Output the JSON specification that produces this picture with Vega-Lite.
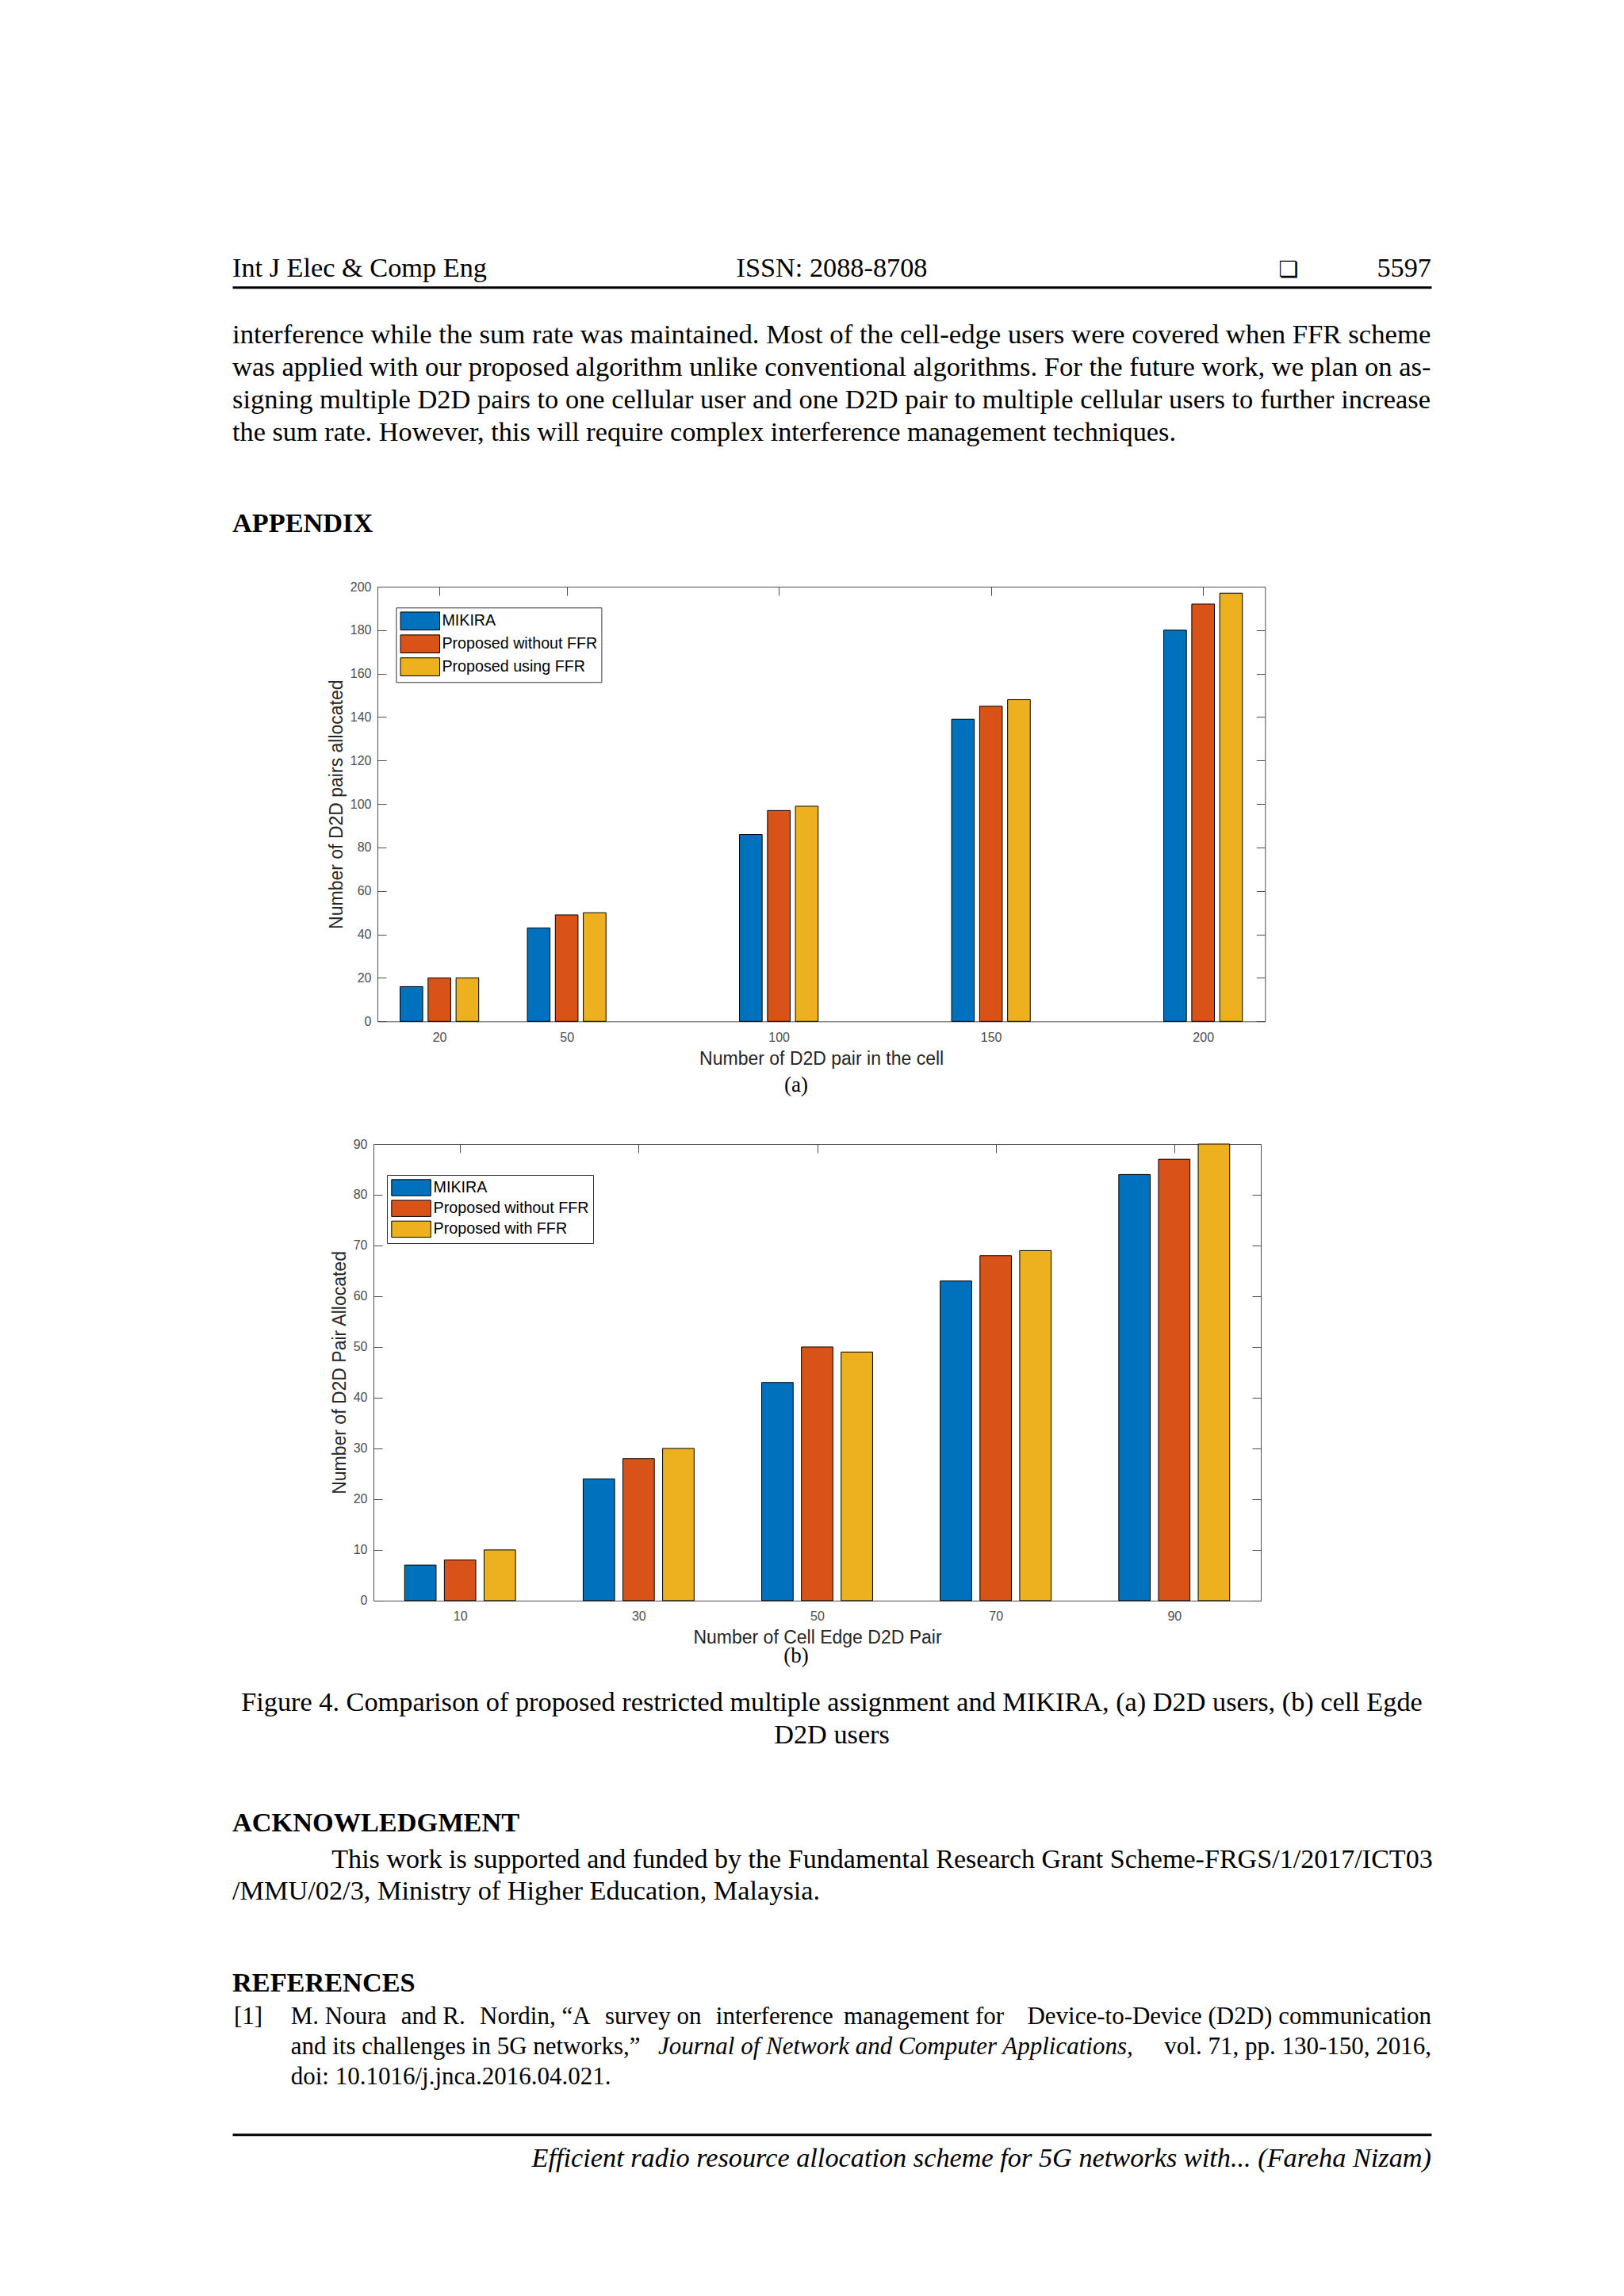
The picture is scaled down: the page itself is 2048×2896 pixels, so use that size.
{
"$schema": "https://vega.github.io/schema/vega-lite/v6.json",
"background": "white",
"padding": {"left": 293, "top": 300, "right": 0, "bottom": 0},
"spacing": 0,
"bounds": "flush",
"config": {
  "view": {"stroke": null},
  "text": {"font": "Liberation Serif", "fontSize": 34.3, "baseline": "alphabetic", "color": "black"},
  "axis": {"labelFont": "Liberation Sans", "labelFontSize": 16, "labelColor": "#4d4d4d", "tickColor": "#4d4d4d", "domainColor": "#4d4d4d", "tickSize": -11, "tickWidth": 1, "domainWidth": 1, "grid": false, "zindex": 1, "labelFlush": false, "labelOverlap": false, "titleFont": "Liberation Sans", "titleFontSize": 23, "titleFontWeight": "normal", "titleColor": "#262626"},
  "legend": {"labelLimit": 400}
},
"resolve": {"scale": {"color": "independent", "x": "independent", "y": "independent"}, "legend": {"color": "independent"}},
"vconcat": [
  {
    "width": 1512, "height": 62.3,
    "data": {"values": [
      {"line": 0, "pos": "left", "kind": "L", "text": "Int J Elec & Comp Eng"},
      {"line": 0, "pos": "center", "kind": "C", "text": "ISSN: 2088-8708"},
      {"line": 0, "pos": "right", "kind": "B", "text": "❏"},
      {"line": 0, "pos": "right", "kind": "R", "text": "5597"}
    ]},
    "encoding": {
      "x": {"field": "pos", "type": "nominal", "scale": {"type": "point", "domain": ["left", "center", "right"], "padding": 0}, "axis": {"orient": "bottom", "domain": true, "domainWidth": 3, "domainColor": "black", "ticks": false, "labels": false, "title": null}},
      "y": {"field": "line", "type": "ordinal", "scale": {"type": "point", "padding": 0, "align": 0.7913}, "axis": null},
      "text": {"field": "text"}
    },
    "layer": [
      {"transform": [{"filter": "datum.kind === 'L'"}], "mark": {"type": "text", "align": "left"}},
      {"transform": [{"filter": "datum.kind === 'C'"}], "mark": {"type": "text", "align": "center"}},
      {"transform": [{"filter": "datum.kind === 'R'"}], "mark": {"type": "text", "align": "right"}},
      {"transform": [{"filter": "datum.kind === 'B'"}], "mark": {"type": "text", "align": "center", "dx": -180.3, "font": "DejaVu Sans", "fontSize": 28}}
    ]
  },
  {
    "width": 1512, "height": 204,
    "data": {"values": [
      {"line": 0, "pos": "left", "text": "interference while the sum rate was maintained. Most of the cell-edge users were covered when FFR scheme"},
      {"line": 1, "pos": "left", "text": "was applied with our proposed algorithm unlike conventional algorithms. For the future work, we plan on as-"},
      {"line": 2, "pos": "left", "text": "signing multiple D2D pairs to one cellular user and one D2D pair to multiple cellular users to further increase"},
      {"line": 3, "pos": "left", "text": "the sum rate. However, this will require complex interference management techniques."}
    ]},
    "encoding": {
      "x": {"field": "pos", "type": "nominal", "scale": {"type": "point", "domain": ["left", "center", "right"], "padding": 0}, "axis": null},
      "y": {"field": "line", "type": "ordinal", "scale": {"type": "point", "padding": 1, "align": 0.8603}, "axis": null},
      "text": {"field": "text"}
    },
    "layer": [
      {"transform": [{"filter": "datum.line === 0"}], "mark": {"type": "text", "align": "left", "fontSize": 34.74}},
      {"transform": [{"filter": "datum.line === 1"}], "mark": {"type": "text", "align": "left", "fontSize": 34.6}},
      {"transform": [{"filter": "datum.line === 2"}], "mark": {"type": "text", "align": "left", "fontSize": 34.45}},
      {"transform": [{"filter": "datum.line === 3"}], "mark": {"type": "text", "align": "left", "fontSize": 34.3}}
    ]
  },
  {
    "width": 1512, "height": 172.4,
    "data": {"values": [{"line": 0, "pos": "left", "text": "APPENDIX"}]},
    "mark": {"type": "text", "align": "left", "fontWeight": "bold"},
    "encoding": {
      "x": {"field": "pos", "type": "nominal", "scale": {"type": "point", "domain": ["left", "center", "right"], "padding": 0}, "axis": null},
      "y": {"field": "line", "type": "ordinal", "scale": {"type": "point", "padding": 0, "align": 0.6056}, "axis": null},
      "text": {"field": "text"}
    }
  },
  {
    "width": 1302.3, "height": 548.3,
    "data": {"values": [
      {"n": 20, "series": "MIKIRA", "value": 16},
      {"n": 20, "series": "Proposed without FFR", "value": 20},
      {"n": 20, "series": "Proposed using FFR", "value": 20},
      {"n": 50, "series": "MIKIRA", "value": 43},
      {"n": 50, "series": "Proposed without FFR", "value": 49},
      {"n": 50, "series": "Proposed using FFR", "value": 50},
      {"n": 100, "series": "MIKIRA", "value": 86},
      {"n": 100, "series": "Proposed without FFR", "value": 97},
      {"n": 100, "series": "Proposed using FFR", "value": 99},
      {"n": 150, "series": "MIKIRA", "value": 139},
      {"n": 150, "series": "Proposed without FFR", "value": 145},
      {"n": 150, "series": "Proposed using FFR", "value": 148},
      {"n": 200, "series": "MIKIRA", "value": 180},
      {"n": 200, "series": "Proposed without FFR", "value": 192},
      {"n": 200, "series": "Proposed using FFR", "value": 197}
    ]},
    "layer": [
      {
        "transform": [{"filter": "datum.series === 'MIKIRA'"}],
        "mark": {"type": "bar", "width": 28.6, "xOffset": -35.3, "stroke": "black", "strokeWidth": 1},
        "encoding": {
          "x": {"field": "n", "type": "quantitative", "scale": {"domain": [5.4, 214.6], "range": [183, 1302.3], "nice": false, "zero": false, "padding": 0},
                "axis": {"orient": "bottom", "values": [20, 50, 100, 150, 200], "title": "Number of D2D pair in the cell", "titleX": 742.65, "titleY": 54.5, "titleAlign": "center", "titleBaseline": "alphabetic", "labelBaseline": "alphabetic", "labelPadding": 36}},
          "y": {"field": "value", "type": "quantitative", "stack": null, "scale": {"domain": [0, 200], "nice": false, "padding": 0},
                "axis": {"orient": "left", "offset": -183, "values": [0, 20, 40, 60, 80, 100, 120, 140, 160, 180, 200], "title": "Number of D2D pairs allocated", "titleX": -45, "titleY": 274.15, "titleAngle": 270, "titleAlign": "center", "titleBaseline": "alphabetic", "labelPadding": 19}},
          "color": {"field": "series", "type": "nominal", "scale": {"domain": ["MIKIRA", "Proposed without FFR", "Proposed using FFR"], "range": ["#0072BD", "#D95319", "#EDB120"]},
                    "legend": {"orient": "none", "legendX": 206.4, "legendY": 26.3, "title": null, "padding": 5, "strokeColor": "#333333", "fillColor": "white", "symbolType": "M-1,-1H3.36V1H-1Z", "symbolSize": 515.3, "symbolStrokeColor": "black", "symbolStrokeWidth": 1, "symbolOpacity": 1, "labelFont": "Liberation Sans", "labelFontSize": 19.7, "labelColor": "black", "labelOffset": 29, "rowPadding": 0.9, "labelLimit": 400}}
        }
      },
      {
        "transform": [{"filter": "datum.series === 'Proposed without FFR'"}],
        "mark": {"type": "bar", "width": 28.6, "xOffset": 0, "stroke": "black", "strokeWidth": 1},
        "encoding": {
          "x": {"field": "n", "type": "quantitative", "scale": {"domain": [5.4, 214.6], "range": [183, 1302.3], "nice": false, "zero": false, "padding": 0}, "axis": null},
          "y": {"field": "value", "type": "quantitative", "stack": null, "scale": {"domain": [0, 200], "nice": false, "padding": 0}, "axis": null},
          "color": {"field": "series", "type": "nominal", "scale": {"domain": ["MIKIRA", "Proposed without FFR", "Proposed using FFR"], "range": ["#0072BD", "#D95319", "#EDB120"]},
                    "legend": {"orient": "none", "legendX": 206.4, "legendY": 26.3, "title": null, "padding": 5, "strokeColor": "#333333", "fillColor": "white", "symbolType": "M-1,-1H3.36V1H-1Z", "symbolSize": 515.3, "symbolStrokeColor": "black", "symbolStrokeWidth": 1, "symbolOpacity": 1, "labelFont": "Liberation Sans", "labelFontSize": 19.7, "labelColor": "black", "labelOffset": 29, "rowPadding": 0.9, "labelLimit": 400}}
        }
      },
      {
        "transform": [{"filter": "datum.series === 'Proposed using FFR'"}],
        "mark": {"type": "bar", "width": 28.6, "xOffset": 35.3, "stroke": "black", "strokeWidth": 1},
        "encoding": {
          "x": {"field": "n", "type": "quantitative", "scale": {"domain": [5.4, 214.6], "range": [183, 1302.3], "nice": false, "zero": false, "padding": 0},
                "axis": {"orient": "top", "values": [20, 50, 100, 150, 200], "labels": false, "title": null}},
          "y": {"field": "value", "type": "quantitative", "stack": null, "scale": {"domain": [0, 200], "nice": false, "padding": 0},
                "axis": {"orient": "right", "values": [0, 20, 40, 60, 80, 100, 120, 140, 160, 180, 200], "labels": false, "title": null}},
          "color": {"field": "series", "type": "nominal", "scale": {"domain": ["MIKIRA", "Proposed without FFR", "Proposed using FFR"], "range": ["#0072BD", "#D95319", "#EDB120"]},
                    "legend": {"orient": "none", "legendX": 206.4, "legendY": 26.3, "title": null, "padding": 5, "strokeColor": "#333333", "fillColor": "white", "symbolType": "M-1,-1H3.36V1H-1Z", "symbolSize": 515.3, "symbolStrokeColor": "black", "symbolStrokeWidth": 1, "symbolOpacity": 1, "labelFont": "Liberation Sans", "labelFontSize": 19.7, "labelColor": "black", "labelOffset": 29, "rowPadding": 0.9, "labelLimit": 400}}
        }
      }
    ],
    "resolve": {"axis": {"x": "independent", "y": "independent"}}
  },
  {
    "width": 1422, "height": 153.4,
    "data": {"values": [{"line": 0, "pos": "center", "text": "(a)"}]},
    "mark": {"type": "text", "align": "center", "fontSize": 27},
    "encoding": {
      "x": {"field": "pos", "type": "nominal", "scale": {"type": "point", "domain": ["left", "center", "right"], "padding": 0}, "axis": null},
      "y": {"field": "line", "type": "ordinal", "scale": {"type": "point", "padding": 0, "align": 0.571}, "axis": null},
      "text": {"field": "text"}
    }
  },
  {
    "width": 1297, "height": 575.9,
    "data": {"values": [
      {"n": 10, "series": "MIKIRA", "value": 7},
      {"n": 10, "series": "Proposed without FFR", "value": 8},
      {"n": 10, "series": "Proposed with FFR", "value": 10},
      {"n": 30, "series": "MIKIRA", "value": 24},
      {"n": 30, "series": "Proposed without FFR", "value": 28},
      {"n": 30, "series": "Proposed with FFR", "value": 30},
      {"n": 50, "series": "MIKIRA", "value": 43},
      {"n": 50, "series": "Proposed without FFR", "value": 50},
      {"n": 50, "series": "Proposed with FFR", "value": 49},
      {"n": 70, "series": "MIKIRA", "value": 63},
      {"n": 70, "series": "Proposed without FFR", "value": 68},
      {"n": 70, "series": "Proposed with FFR", "value": 69},
      {"n": 90, "series": "MIKIRA", "value": 84},
      {"n": 90, "series": "Proposed without FFR", "value": 87},
      {"n": 90, "series": "Proposed with FFR", "value": 90}
    ]},
    "layer": [
      {
        "transform": [{"filter": "datum.series === 'MIKIRA'"}],
        "mark": {"type": "bar", "width": 39.7, "xOffset": -50.1, "stroke": "black", "strokeWidth": 1},
        "encoding": {
          "x": {"field": "n", "type": "quantitative", "scale": {"domain": [0.3, 99.7], "range": [178, 1297], "nice": false, "zero": false, "padding": 0},
                "axis": {"orient": "bottom", "values": [10, 30, 50, 70, 90], "title": "Number of Cell Edge D2D Pair", "titleX": 737.5, "titleY": 53.5, "titleAlign": "center", "titleBaseline": "alphabetic", "labelBaseline": "alphabetic", "labelPadding": 36}},
          "y": {"field": "value", "type": "quantitative", "stack": null, "scale": {"domain": [0, 90], "nice": false, "padding": 0},
                "axis": {"orient": "left", "offset": -178, "values": [0, 10, 20, 30, 40, 50, 60, 70, 80, 90], "title": "Number of D2D Pair Allocated", "titleX": -35.2, "titleY": 287.95, "titleAngle": 270, "titleAlign": "center", "titleBaseline": "alphabetic", "labelPadding": 19}},
          "color": {"field": "series", "type": "nominal", "scale": {"domain": ["MIKIRA", "Proposed without FFR", "Proposed with FFR"], "range": ["#0072BD", "#D95319", "#EDB120"]},
                    "legend": {"orient": "none", "legendX": 195, "legendY": 39, "title": null, "padding": 5, "strokeColor": "#333333", "fillColor": "white", "symbolType": "M-1,-1H3.853V1H-1Z", "symbolSize": 416.2, "symbolStrokeColor": "black", "symbolStrokeWidth": 1, "symbolOpacity": 1, "labelFont": "Liberation Sans", "labelFontSize": 19.7, "labelColor": "black", "labelOffset": 31.6, "rowPadding": 0.2, "labelLimit": 400}}
        }
      },
      {
        "transform": [{"filter": "datum.series === 'Proposed without FFR'"}],
        "mark": {"type": "bar", "width": 39.7, "xOffset": 0, "stroke": "black", "strokeWidth": 1},
        "encoding": {
          "x": {"field": "n", "type": "quantitative", "scale": {"domain": [0.3, 99.7], "range": [178, 1297], "nice": false, "zero": false, "padding": 0}, "axis": null},
          "y": {"field": "value", "type": "quantitative", "stack": null, "scale": {"domain": [0, 90], "nice": false, "padding": 0}, "axis": null},
          "color": {"field": "series", "type": "nominal", "scale": {"domain": ["MIKIRA", "Proposed without FFR", "Proposed with FFR"], "range": ["#0072BD", "#D95319", "#EDB120"]},
                    "legend": {"orient": "none", "legendX": 195, "legendY": 39, "title": null, "padding": 5, "strokeColor": "#333333", "fillColor": "white", "symbolType": "M-1,-1H3.853V1H-1Z", "symbolSize": 416.2, "symbolStrokeColor": "black", "symbolStrokeWidth": 1, "symbolOpacity": 1, "labelFont": "Liberation Sans", "labelFontSize": 19.7, "labelColor": "black", "labelOffset": 31.6, "rowPadding": 0.2, "labelLimit": 400}}
        }
      },
      {
        "transform": [{"filter": "datum.series === 'Proposed with FFR'"}],
        "mark": {"type": "bar", "width": 39.7, "xOffset": 50.1, "stroke": "black", "strokeWidth": 1},
        "encoding": {
          "x": {"field": "n", "type": "quantitative", "scale": {"domain": [0.3, 99.7], "range": [178, 1297], "nice": false, "zero": false, "padding": 0},
                "axis": {"orient": "top", "values": [10, 30, 50, 70, 90], "labels": false, "title": null}},
          "y": {"field": "value", "type": "quantitative", "stack": null, "scale": {"domain": [0, 90], "nice": false, "padding": 0},
                "axis": {"orient": "right", "values": [0, 10, 20, 30, 40, 50, 60, 70, 80, 90], "labels": false, "title": null}},
          "color": {"field": "series", "type": "nominal", "scale": {"domain": ["MIKIRA", "Proposed without FFR", "Proposed with FFR"], "range": ["#0072BD", "#D95319", "#EDB120"]},
                    "legend": {"orient": "none", "legendX": 195, "legendY": 39, "title": null, "padding": 5, "strokeColor": "#333333", "fillColor": "white", "symbolType": "M-1,-1H3.853V1H-1Z", "symbolSize": 416.2, "symbolStrokeColor": "black", "symbolStrokeWidth": 1, "symbolOpacity": 1, "labelFont": "Liberation Sans", "labelFontSize": 19.7, "labelColor": "black", "labelOffset": 31.6, "rowPadding": 0.2, "labelLimit": 400}}
        }
      }
    ],
    "resolve": {"axis": {"x": "independent", "y": "independent"}}
  },
  {
    "width": 1422, "height": 100,
    "data": {"values": [{"line": 0, "pos": "center", "text": "(b)"}]},
    "mark": {"type": "text", "align": "center", "fontSize": 27},
    "encoding": {
      "x": {"field": "pos", "type": "nominal", "scale": {"type": "point", "domain": ["left", "center", "right"], "padding": 0}, "axis": null},
      "y": {"field": "line", "type": "ordinal", "scale": {"type": "point", "padding": 0, "align": 0.777}, "axis": null},
      "text": {"field": "text"}
    }
  },
  {
    "width": 1512, "height": 120,
    "data": {"values": [
      {"line": 0, "pos": "center", "text": "Figure 4. Comparison of proposed restricted multiple assignment and MIKIRA, (a) D2D users, (b) cell Egde"},
      {"line": 1, "pos": "center", "text": "D2D users"}
    ]},
    "mark": {"type": "text", "align": "center"},
    "encoding": {
      "x": {"field": "pos", "type": "nominal", "scale": {"type": "point", "domain": ["left", "center", "right"], "padding": 0}, "axis": null},
      "y": {"field": "line", "type": "ordinal", "scale": {"type": "point", "padding": 0.9706, "align": 0.4975}, "axis": null},
      "text": {"field": "text"}
    }
  },
  {
    "width": 1512, "height": 90,
    "data": {"values": [{"line": 0, "pos": "left", "text": "ACKNOWLEDGMENT"}]},
    "mark": {"type": "text", "align": "left", "fontWeight": "bold"},
    "encoding": {
      "x": {"field": "pos", "type": "nominal", "scale": {"type": "point", "domain": ["left", "center", "right"], "padding": 0}, "axis": null},
      "y": {"field": "line", "type": "ordinal", "scale": {"type": "point", "padding": 0, "align": 0.7856}, "axis": null},
      "text": {"field": "text"}
    }
  },
  {
    "width": 1512, "height": 121.2,
    "data": {"values": [
      {"line": 0, "pos": "left", "kind": "indent", "text": "This work is supported and funded by the Fundamental Research Grant Scheme-FRGS/1/2017/ICT03"},
      {"line": 1, "pos": "left", "kind": "plain", "text": "/MMU/02/3, Ministry of Higher Education, Malaysia."}
    ]},
    "encoding": {
      "x": {"field": "pos", "type": "nominal", "scale": {"type": "point", "domain": ["left", "center", "right"], "padding": 0}, "axis": null},
      "y": {"field": "line", "type": "ordinal", "scale": {"type": "point", "padding": 1, "align": 0.3304}, "axis": null},
      "text": {"field": "text"}
    },
    "layer": [
      {"transform": [{"filter": "datum.kind === 'indent'"}], "mark": {"type": "text", "align": "left", "dx": 125.3, "fontSize": 34.1}},
      {"transform": [{"filter": "datum.kind === 'plain'"}], "mark": {"type": "text", "align": "left"}}
    ]
  },
  {
    "width": 1512, "height": 68.8,
    "data": {"values": [{"line": 0, "pos": "left", "text": "REFERENCES"}]},
    "mark": {"type": "text", "align": "left", "fontWeight": "bold"},
    "encoding": {
      "x": {"field": "pos", "type": "nominal", "scale": {"type": "point", "domain": ["left", "center", "right"], "padding": 0}, "axis": null},
      "y": {"field": "line", "type": "ordinal", "scale": {"type": "point", "padding": 0, "align": 0.8837}, "axis": null},
      "text": {"field": "text"}
    }
  },
  {
    "width": 1512, "height": 151.2,
    "data": {"values": [
      {"line": 0, "pos": "left", "kind": "num", "text": "[1]"},
      {"line": 0, "pos": "left", "kind": "body", "text": "M. Noura"},
      {"line": 0, "pos": "left", "kind": "s2", "text": "and R."},
      {"line": 0, "pos": "left", "kind": "s3", "text": "Nordin, “A"},
      {"line": 0, "pos": "left", "kind": "s4", "text": "survey on"},
      {"line": 0, "pos": "left", "kind": "s5", "text": "interference"},
      {"line": 0, "pos": "left", "kind": "s6", "text": "management for"},
      {"line": 0, "pos": "right", "kind": "tail", "text": "Device-to-Device (D2D) communication"},
      {"line": 1, "pos": "left", "kind": "body", "text": "and its challenges in 5G networks,”"},
      {"line": 1, "pos": "left", "kind": "ital", "text": "Journal of Network and Computer Applications,"},
      {"line": 1, "pos": "right", "kind": "tail", "text": "vol. 71, pp. 130-150, 2016,"},
      {"line": 2, "pos": "left", "kind": "body", "text": "doi: 10.1016/j.jnca.2016.04.021."}
    ]},
    "encoding": {
      "x": {"field": "pos", "type": "nominal", "scale": {"type": "point", "domain": ["left", "center", "right"], "padding": 0}, "axis": null},
      "y": {"field": "line", "type": "ordinal", "scale": {"type": "point", "padding": 1, "align": 0.4392}, "axis": null},
      "text": {"field": "text"}
    },
    "layer": [
      {"transform": [{"filter": "datum.kind === 'num'"}], "mark": {"type": "text", "align": "left", "dx": 2, "fontSize": 31}},
      {"transform": [{"filter": "datum.kind === 'body'"}], "mark": {"type": "text", "align": "left", "dx": 73.7, "fontSize": 31}},
      {"transform": [{"filter": "datum.kind === 's2'"}], "mark": {"type": "text", "align": "left", "dx": 212.7, "fontSize": 31}},
      {"transform": [{"filter": "datum.kind === 's3'"}], "mark": {"type": "text", "align": "left", "dx": 312.1, "fontSize": 31}},
      {"transform": [{"filter": "datum.kind === 's4'"}], "mark": {"type": "text", "align": "left", "dx": 470, "fontSize": 31}},
      {"transform": [{"filter": "datum.kind === 's5'"}], "mark": {"type": "text", "align": "left", "dx": 609.8, "fontSize": 31}},
      {"transform": [{"filter": "datum.kind === 's6'"}], "mark": {"type": "text", "align": "left", "dx": 770.9, "fontSize": 31}},
      {"transform": [{"filter": "datum.kind === 'ital'"}], "mark": {"type": "text", "align": "left", "dx": 537, "fontSize": 31, "fontStyle": "italic"}},
      {"transform": [{"filter": "datum.kind === 'tail'"}], "mark": {"type": "text", "align": "right", "fontSize": 31}}
    ]
  },
  {
    "width": 1512, "height": 80,
    "data": {"values": [{"line": 0, "pos": "right", "text": "Efficient radio resource allocation scheme for 5G networks with... (Fareha Nizam)"}]},
    "mark": {"type": "text", "align": "right", "fontStyle": "italic"},
    "encoding": {
      "x": {"field": "pos", "type": "nominal", "scale": {"type": "point", "domain": ["left", "center", "right"], "padding": 0}, "axis": {"orient": "top", "offset": -20.2, "domain": true, "domainWidth": 3, "domainColor": "black", "ticks": false, "labels": false, "title": null}},
      "y": {"field": "line", "type": "ordinal", "scale": {"type": "point", "padding": 0, "align": 0.76}, "axis": null},
      "text": {"field": "text"}
    }
  }
]
}
